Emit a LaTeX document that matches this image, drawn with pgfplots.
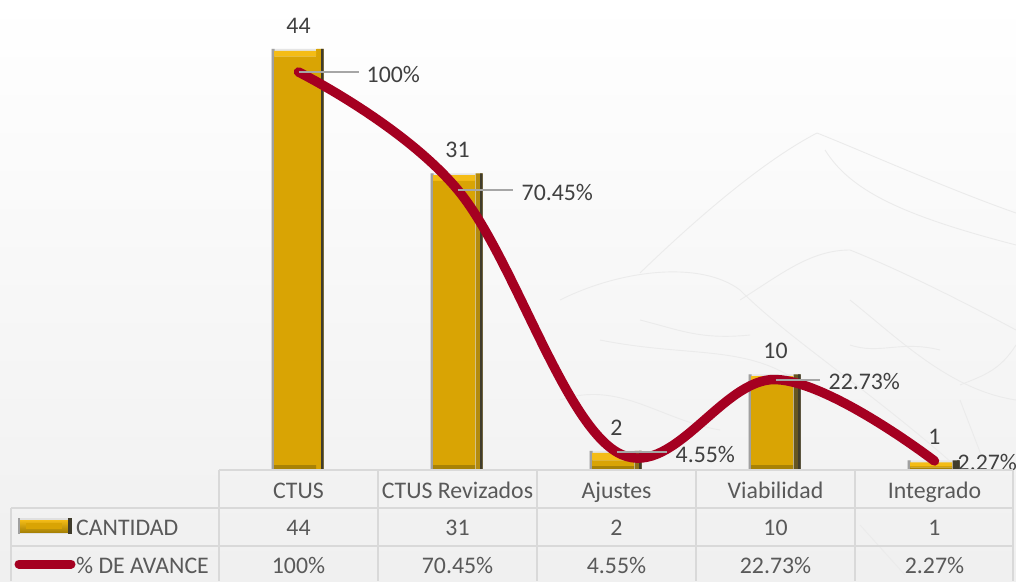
\documentclass[border=0pt]{standalone}
\usepackage{pgfplots}
\usepackage{pgfplotstable}
\pgfplotsset{compat=1.18}
\usepackage{fontspec}
\setmainfont{Carlito}
\definecolor{gold}{HTML}{D9A404}
\definecolor{goldtop}{HTML}{F4BC16}
\definecolor{goldlow}{HTML}{A88206}
\definecolor{sideD}{HTML}{403C2C}
\definecolor{sideL}{HTML}{A0A0A0}
\definecolor{rojo}{HTML}{A50021}
\definecolor{txt}{HTML}{595959}
\definecolor{txtd}{HTML}{404040}
\definecolor{gridc}{HTML}{D9D9D9}
\definecolor{leader}{HTML}{A6A6A6}
\pgfplotstableread{
x v bot face top
0 44 0.5 42.7 0.6
1 31 0.5 29.7 0.6
2 2 0.4 0.6 0.8
3 10 0.5 8.7 0.6
4 1 0.25 0.15 0.4
}\barsT
\pgfplotstableread{
x p ex
0 100 0.38
1 70.45 0.35
2 4.55 0.32
3 22.73 0.28
4 2.27 0
}\lineT
\pgfplotsset{base/.style={
  at={(219pt,111pt)},anchor=south west,scale only axis,
  width=795pt,height=470pt,xmin=-0.5,xmax=4.5,
  axis lines=none,clip=false}}
\tikzset{lab/.style={anchor=west,text=txtd,font=\fontsize{23.8}{28}\selectfont,inner sep=0pt}}
\begin{document}
\begin{tikzpicture}[x=1pt,y=1pt,font=\fontsize{23.8}{28}\selectfont,text=txt]
\useasboundingbox (0,0) rectangle (1016,581);
\shade[top color=white,bottom color=black!6] (0,0) rectangle (1016,581);
% faint mountain sketch
\begin{scope}[shift={(0,581)},yscale=-1,draw=black!8,line width=0.9pt]
\draw (640,273) .. controls (700,215) and (765,160) .. (817,133) .. controls (860,150) and (950,190) .. (1016,213);
\draw (825,150) .. controls (850,190) and (900,215) .. (1016,245);
\draw (560,300) .. controls (620,270) and (700,260) .. (740,290) .. controls (790,340) and (870,390) .. (960,470);
\draw (740,300) .. controls (780,275) and (810,250) .. (850,250) .. controls (900,270) and (960,300) .. (1016,330);
\draw (850,300) .. controls (900,340) and (950,390) .. (1016,400);
\draw (600,340) .. controls (700,360) and (760,340) .. (820,400);
\draw (560,400) .. controls (620,380) and (660,420) .. (720,430);
\draw (960,385) .. controls (985,375) and (1000,370) .. (1016,345);
\draw (850,345) .. controls (880,355) and (900,340) .. (940,350);
\draw (640,320) .. controls (680,330) and (700,340) .. (750,335);
\draw (960,400) -- (985,465);
\draw (860,525) -- (905,575);
\end{scope}
% bars: outer bevel
\begin{axis}[base,ybar,ymin=0,ymax=49.11]
\addplot[ybar,bar width=52pt,bar shift=-1pt,draw=none,fill=black!10] table[x=x,y=v]{\barsT};
\addplot[ybar,bar width=3pt,bar shift=-25.5pt,draw=none,fill=sideL] table[x=x,y=v]{\barsT};
\addplot[ybar,bar width=7pt,bar shift=21.5pt,draw=none,left color=gold,right color=sideD] table[x=x,y=v]{\barsT};
\addplot[ybar,bar width=2.5pt,bar shift=23.75pt,draw=none,fill=sideD] table[x=x,y=v]{\barsT};
\addplot[ybar,bar width=52pt,bar shift=0pt,draw=none,fill=none,
  /pgf/number format/assume math mode=true,
  nodes near coords,nodes near coords style={anchor=south,yshift=12pt,text=txtd,font=\fontsize{23.8}{28}\selectfont}] table[x=x,y=v]{\barsT};
\end{axis}
% bars: lower bevel, face and upper bevel
\begin{axis}[base,ybar stacked,ymin=0,ymax=49.11]
\addplot[draw=none,fill=goldlow,bar width=42pt,bar shift=-3.5pt] table[x=x,y=bot]{\barsT};
\addplot[draw=none,fill=gold,bar width=42pt,bar shift=-3.5pt] table[x=x,y=face]{\barsT};
\addplot[draw=none,fill=goldtop,bar width=42pt,bar shift=-3.5pt] table[x=x,y=top]{\barsT};
\end{axis}
% line and its labels
\begin{axis}[base,ymin=0,ymax=118.09]
\addplot[rojo,line width=9.5pt,line cap=round,smooth,tension=0.62,no marks] table[x=x,y=p]{\lineT};
\addplot[draw=none,no marks,
  error bars/.cd,x dir=plus,x explicit,error bar style={leader,line width=2pt},error mark=none]
  table[x=x,y=p,x error=ex]{\lineT};
\addplot[draw=none,no marks,point meta=explicit symbolic,nodes near coords,
  nodes near coords style={lab,yshift=-2pt,xshift=68pt}]
  coordinates {(0,100) [100\%]};
\addplot[draw=none,no marks,point meta=explicit symbolic,nodes near coords,
  nodes near coords style={lab,yshift=-3pt,xshift=64pt}]
  coordinates {(1,70.45) [70.45\%]};
\addplot[draw=none,no marks,point meta=explicit symbolic,nodes near coords,
  nodes near coords style={lab,yshift=-3pt,xshift=59pt}]
  coordinates {(2,4.55) [4.55\%]};
\addplot[draw=none,no marks,point meta=explicit symbolic,nodes near coords,
  nodes near coords style={lab,yshift=-2pt,xshift=53pt}]
  coordinates {(3,22.73) [22.73\%]};
\addplot[draw=none,no marks,point meta=explicit symbolic,nodes near coords,
  nodes near coords style={lab,yshift=-2pt,xshift=23pt}]
  coordinates {(4,2.27) [2.27\%]};
\end{axis}
% data table
\begin{scope}[draw=gridc,line width=1.5pt]
\draw (219,111)--(1013,111);
\draw (11,73)--(1013,73);
\draw (11,35)--(1013,35);
\draw (11,0)--(11,73);
\foreach \xx in {219,378,537,696,855,1013} \draw (\xx,111)--(\xx,0);
\end{scope}
\foreach \cc/\aa/\bb [count=\i from 0] in {CTUS/44/100\%,CTUS Revizados/31/70.45\%,Ajustes/2/4.55\%,Viabilidad/10/22.73\%,Integrado/1/2.27\%}{
  \node[text=txt,anchor=base,inner sep=0pt] at ({298.5+159*\i},83) {\cc};
  \node[text=txt,anchor=base,inner sep=0pt] at ({298.5+159*\i},46) {\aa};
  \node[text=txt,anchor=base,inner sep=0pt] at ({298.5+159*\i},8) {\bb};
}
\node[text=txt,anchor=base west,inner sep=0pt] at (76,46) {CANTIDAD};
\node[text=txt,anchor=base west,inner sep=0pt] at (76,8) {\% DE AVANCE};
% legend keys
\fill[black!12] (18,47) rectangle (72,63);
\fill[sideL] (18,47) rectangle (20,63);
\fill[top color=goldtop,bottom color=goldlow] (20,49) rectangle (68,61);
\fill[gold] (26,52) rectangle (62,58);
\fill[sideD] (68,47) rectangle (72,63);
\draw[rojo,line width=9pt,line cap=round] (19,17)--(71,17);
\end{tikzpicture}
\end{document}
